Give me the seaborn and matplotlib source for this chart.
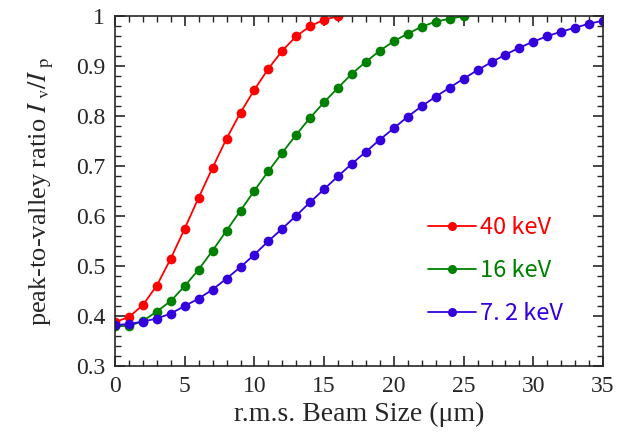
import numpy as np
import pandas as pd
import matplotlib.pyplot as plt
from matplotlib.ticker import MultipleLocator, FuncFormatter
import seaborn as sns

# beam size (um) and peak-to-valley ratio per beam energy
size_40 = list(range(0, 17))
ratio_40 = [0.388, 0.398, 0.422, 0.461, 0.515, 0.575, 0.637, 0.697, 0.755, 0.807,
            0.853, 0.895, 0.931, 0.960, 0.980, 0.993, 1.000]

size_16 = list(range(0, 26))
ratio_16 = [0.380, 0.380, 0.390, 0.409, 0.430, 0.460, 0.493, 0.531, 0.571, 0.611,
            0.651, 0.690, 0.727, 0.763, 0.797, 0.828, 0.857, 0.885, 0.909, 0.931,
            0.950, 0.965, 0.979, 0.989, 0.995, 1.000]

size_7 = list(range(0, 36))
ratio_7 = [0.382, 0.384, 0.389, 0.395, 0.405, 0.420, 0.435, 0.453, 0.475, 0.498,
           0.523, 0.550, 0.575, 0.601, 0.628, 0.654, 0.680, 0.705, 0.729, 0.753,
           0.776, 0.799, 0.820, 0.839, 0.857, 0.875, 0.892, 0.908, 0.923, 0.937,
           0.949, 0.960, 0.969, 0.977, 0.985, 0.991]

labels = ['40 keV', '16 keV', '7. 2 keV']
colors = ['#ff0000', '#008000', '#3300dd']

df = pd.concat([
    pd.DataFrame({'size': size_40, 'ratio': ratio_40, 'energy': labels[0]}),
    pd.DataFrame({'size': size_16, 'ratio': ratio_16, 'energy': labels[1]}),
    pd.DataFrame({'size': size_7, 'ratio': ratio_7, 'energy': labels[2]}),
])

sns.set_style('ticks')
plt.rcParams['font.family'] = ['Liberation Serif', 'DejaVu Serif']
plt.rcParams['mathtext.fontset'] = 'stix'

fig = plt.figure(figsize=(6.23, 4.37), dpi=100)
ax = fig.add_axes([0.1846, 0.1625, 0.7834, 0.8005])

sns.lineplot(data=df, x='size', y='ratio', hue='energy', hue_order=labels,
             palette=colors, marker='o', markersize=7, markeredgewidth=0,
             linewidth=1.3, ax=ax)

ax.set_xlim(0, 35)
ax.set_ylim(0.3, 1.0)
ax.xaxis.set_major_locator(MultipleLocator(5))
ax.xaxis.set_minor_locator(MultipleLocator(1))
ax.yaxis.set_major_locator(MultipleLocator(0.1))
ax.yaxis.set_minor_locator(MultipleLocator(0.02))
ax.yaxis.set_major_formatter(FuncFormatter(lambda v, p: '1' if abs(v - 1) < 1e-6 else f'{v:.1f}'))
ax.tick_params(which='both', direction='in', top=True, right=True, labelsize=17, pad=7)
ax.tick_params(which='major', length=7, width=1.2)
ax.tick_params(which='minor', length=4, width=1.0)
for s in ax.spines.values():
    s.set_linewidth(1.2)

ax.set_xlabel('r.m.s. Beam Size (μm)', fontsize=20, labelpad=4)
ax.set_ylabel(r'peak-to-valley ratio $I_{\ \mathrm{v}}/I_{\ \mathrm{p}}$', fontsize=19, labelpad=14)

handles, _ = ax.get_legend_handles_labels()
for h in handles:
    h.set_markersize(6.5)
leg = ax.legend(handles, labels, loc='lower right', bbox_to_anchor=(0.962, 0.055),
                frameon=False, handlelength=2.0, handletextpad=0.2, labelspacing=0.85,
                labelcolor='linecolor',
                prop={'family': ['Noto Sans CJK JP', 'DejaVu Sans'], 'size': 17})

fig.savefig('out.png', dpi=100)
